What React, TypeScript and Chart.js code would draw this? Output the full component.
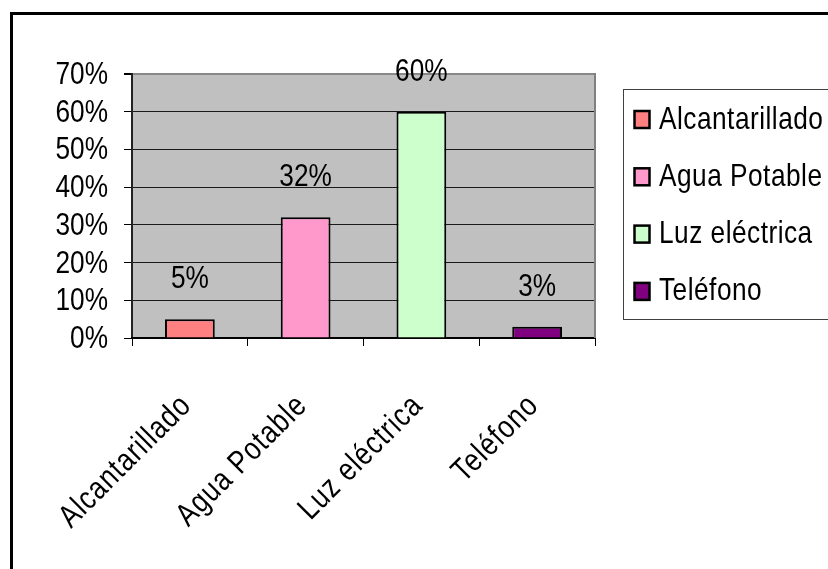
import React, { useEffect, useRef } from "react";
import { Chart, registerables } from "chart.js";

Chart.register(...registerables);

const categories = ["Alcantarillado", "Agua Potable", "Luz eléctrica", "Teléfono"];
const values = [5, 32, 60, 3];
const colors = ["#FF8080", "#FF99CC", "#CCFFCC", "#800080"];
const yTicks = [0, 10, 20, 30, 40, 50, 60, 70];

const FONT = "32px 'Liberation Sans', Arial, sans-serif";
const SX = 0.82; // narrow (Arial Narrow-like) horizontal scale

function narrowText(
  ctx: CanvasRenderingContext2D,
  text: string,
  x: number,
  y: number,
  align: CanvasTextAlign,
  rot = 0,
  spacing = 0
) {
  ctx.save();
  ctx.translate(x, y);
  if (rot) ctx.rotate(rot);
  ctx.scale(SX, 1);
  ctx.font = FONT;
  (ctx as any).letterSpacing = spacing + "px";
  ctx.textAlign = align;
  ctx.textBaseline = "alphabetic";
  ctx.fillStyle = "#000";
  ctx.fillText(text, 0, 0);
  ctx.restore();
}

const decorPlugin = {
  id: "decor",
  beforeDraw(chart: any) {
    const { ctx, chartArea: a, width, height } = chart;
    ctx.save();
    ctx.fillStyle = "#ffffff";
    ctx.fillRect(0, 0, width, height);
    ctx.fillStyle = "#C0C0C0";
    ctx.fillRect(a.left, a.top, a.right - a.left, a.bottom - a.top);
    ctx.restore();
  },
  afterDraw(chart: any) {
    const { ctx, chartArea: a, width, height } = chart;
    const xs = chart.scales.x;
    const ys = chart.scales.y;
    ctx.save();
    // right border of plot
    ctx.strokeStyle = "#808080";
    ctx.lineWidth = 2;
    ctx.beginPath();
    ctx.moveTo(a.right, a.top - 1);
    ctx.lineTo(a.right, a.bottom);
    ctx.stroke();

    // y tick labels
    yTicks.forEach((v) => {
      narrowText(ctx, v + "%", 108, ys.getPixelForValue(v) + 10, "right");
    });

    // x tick labels (rotated)
    categories.forEach((c, i) => {
      narrowText(ctx, c, xs.getPixelForValue(i) + 3, 407, "right", -Math.PI / 4, 1.3);
    });

    // data labels
    const meta = chart.getDatasetMeta(0);
    meta.data.forEach((bar: any, i: number) => {
      narrowText(ctx, values[i] + "%", bar.x, bar.y - 31, "center");
    });

    // outer frame
    ctx.strokeStyle = "#000";
    ctx.lineWidth = 3;
    ctx.beginPath();
    ctx.moveTo(11.5, height + 5);
    ctx.lineTo(11.5, 13.5);
    ctx.lineTo(width + 5, 13.5);
    ctx.stroke();

    // legend
    const lx = 623.5, ly = 89.5, lh = 230;
    ctx.fillStyle = "#fff";
    ctx.fillRect(lx, ly, width - lx + 5, lh);
    ctx.strokeStyle = "#404040";
    ctx.lineWidth = 1;
    ctx.strokeRect(lx, ly, width - lx + 20, lh);
    categories.forEach((c, i) => {
      const base = 128.5 + i * 57.3;
      ctx.fillStyle = colors[i];
      ctx.fillRect(634.5, base - 17.5, 15, 17);
      ctx.strokeStyle = "#000";
      ctx.lineWidth = 2.5;
      ctx.strokeRect(634.5, base - 17.5, 15, 17);
      narrowText(ctx, c, 659, base, "left", 0, 0.6);
    });
    ctx.restore();
  },
};

export default function App() {
  const ref = useRef<HTMLCanvasElement | null>(null);
  useEffect(() => {
    if (!ref.current) return;
    const chart = new Chart(ref.current, {
      type: "bar",
      data: {
        labels: categories,
        datasets: [
          {
            data: values,
            backgroundColor: colors,
            borderColor: "#000",
            borderWidth: 2,
            barPercentage: 0.43,
            categoryPercentage: 1,
          },
        ],
      },
      options: {
        responsive: false,
        animation: false,
        layout: { padding: { left: 0, right: 233, top: 74, bottom: 0 } },
        plugins: { legend: { display: false }, tooltip: { enabled: false } },
        scales: {
          y: {
            min: 0,
            max: 70,
            afterFit: (s: any) => {
              s.width = 132;
            },
            afterBuildTicks: (s: any) => {
              s.ticks = yTicks.map((v) => ({ value: v }));
            },
            ticks: { display: false },
            grid: {
              color: (c: any) => (c.tick && c.tick.value === 70 ? "#888888" : "#1a1a1a"),
              lineWidth: (c: any) => (c.tick && c.tick.value === 70 ? 2 : 1),
              tickColor: "#000",
              tickLength: 8,
            },
            border: { color: "#222", width: 2 },
          },
          x: {
            afterFit: (s: any) => {
              s.height = 231;
            },
            ticks: { display: false, autoSkip: false },
            grid: {
              drawOnChartArea: false,
              drawTicks: true,
              tickLength: 8,
              tickColor: "#000",
              color: "#000",
              offset: true,
            },
            border: { color: "#000", width: 2 },
          },
        },
      },
      plugins: [decorPlugin],
    });
    return () => chart.destroy();
  }, []);
  return (
    <canvas
      ref={ref}
      width={828}
      height={569}
      style={{ position: "absolute", left: 0, top: 0, display: "block" }}
    />
  );
}
